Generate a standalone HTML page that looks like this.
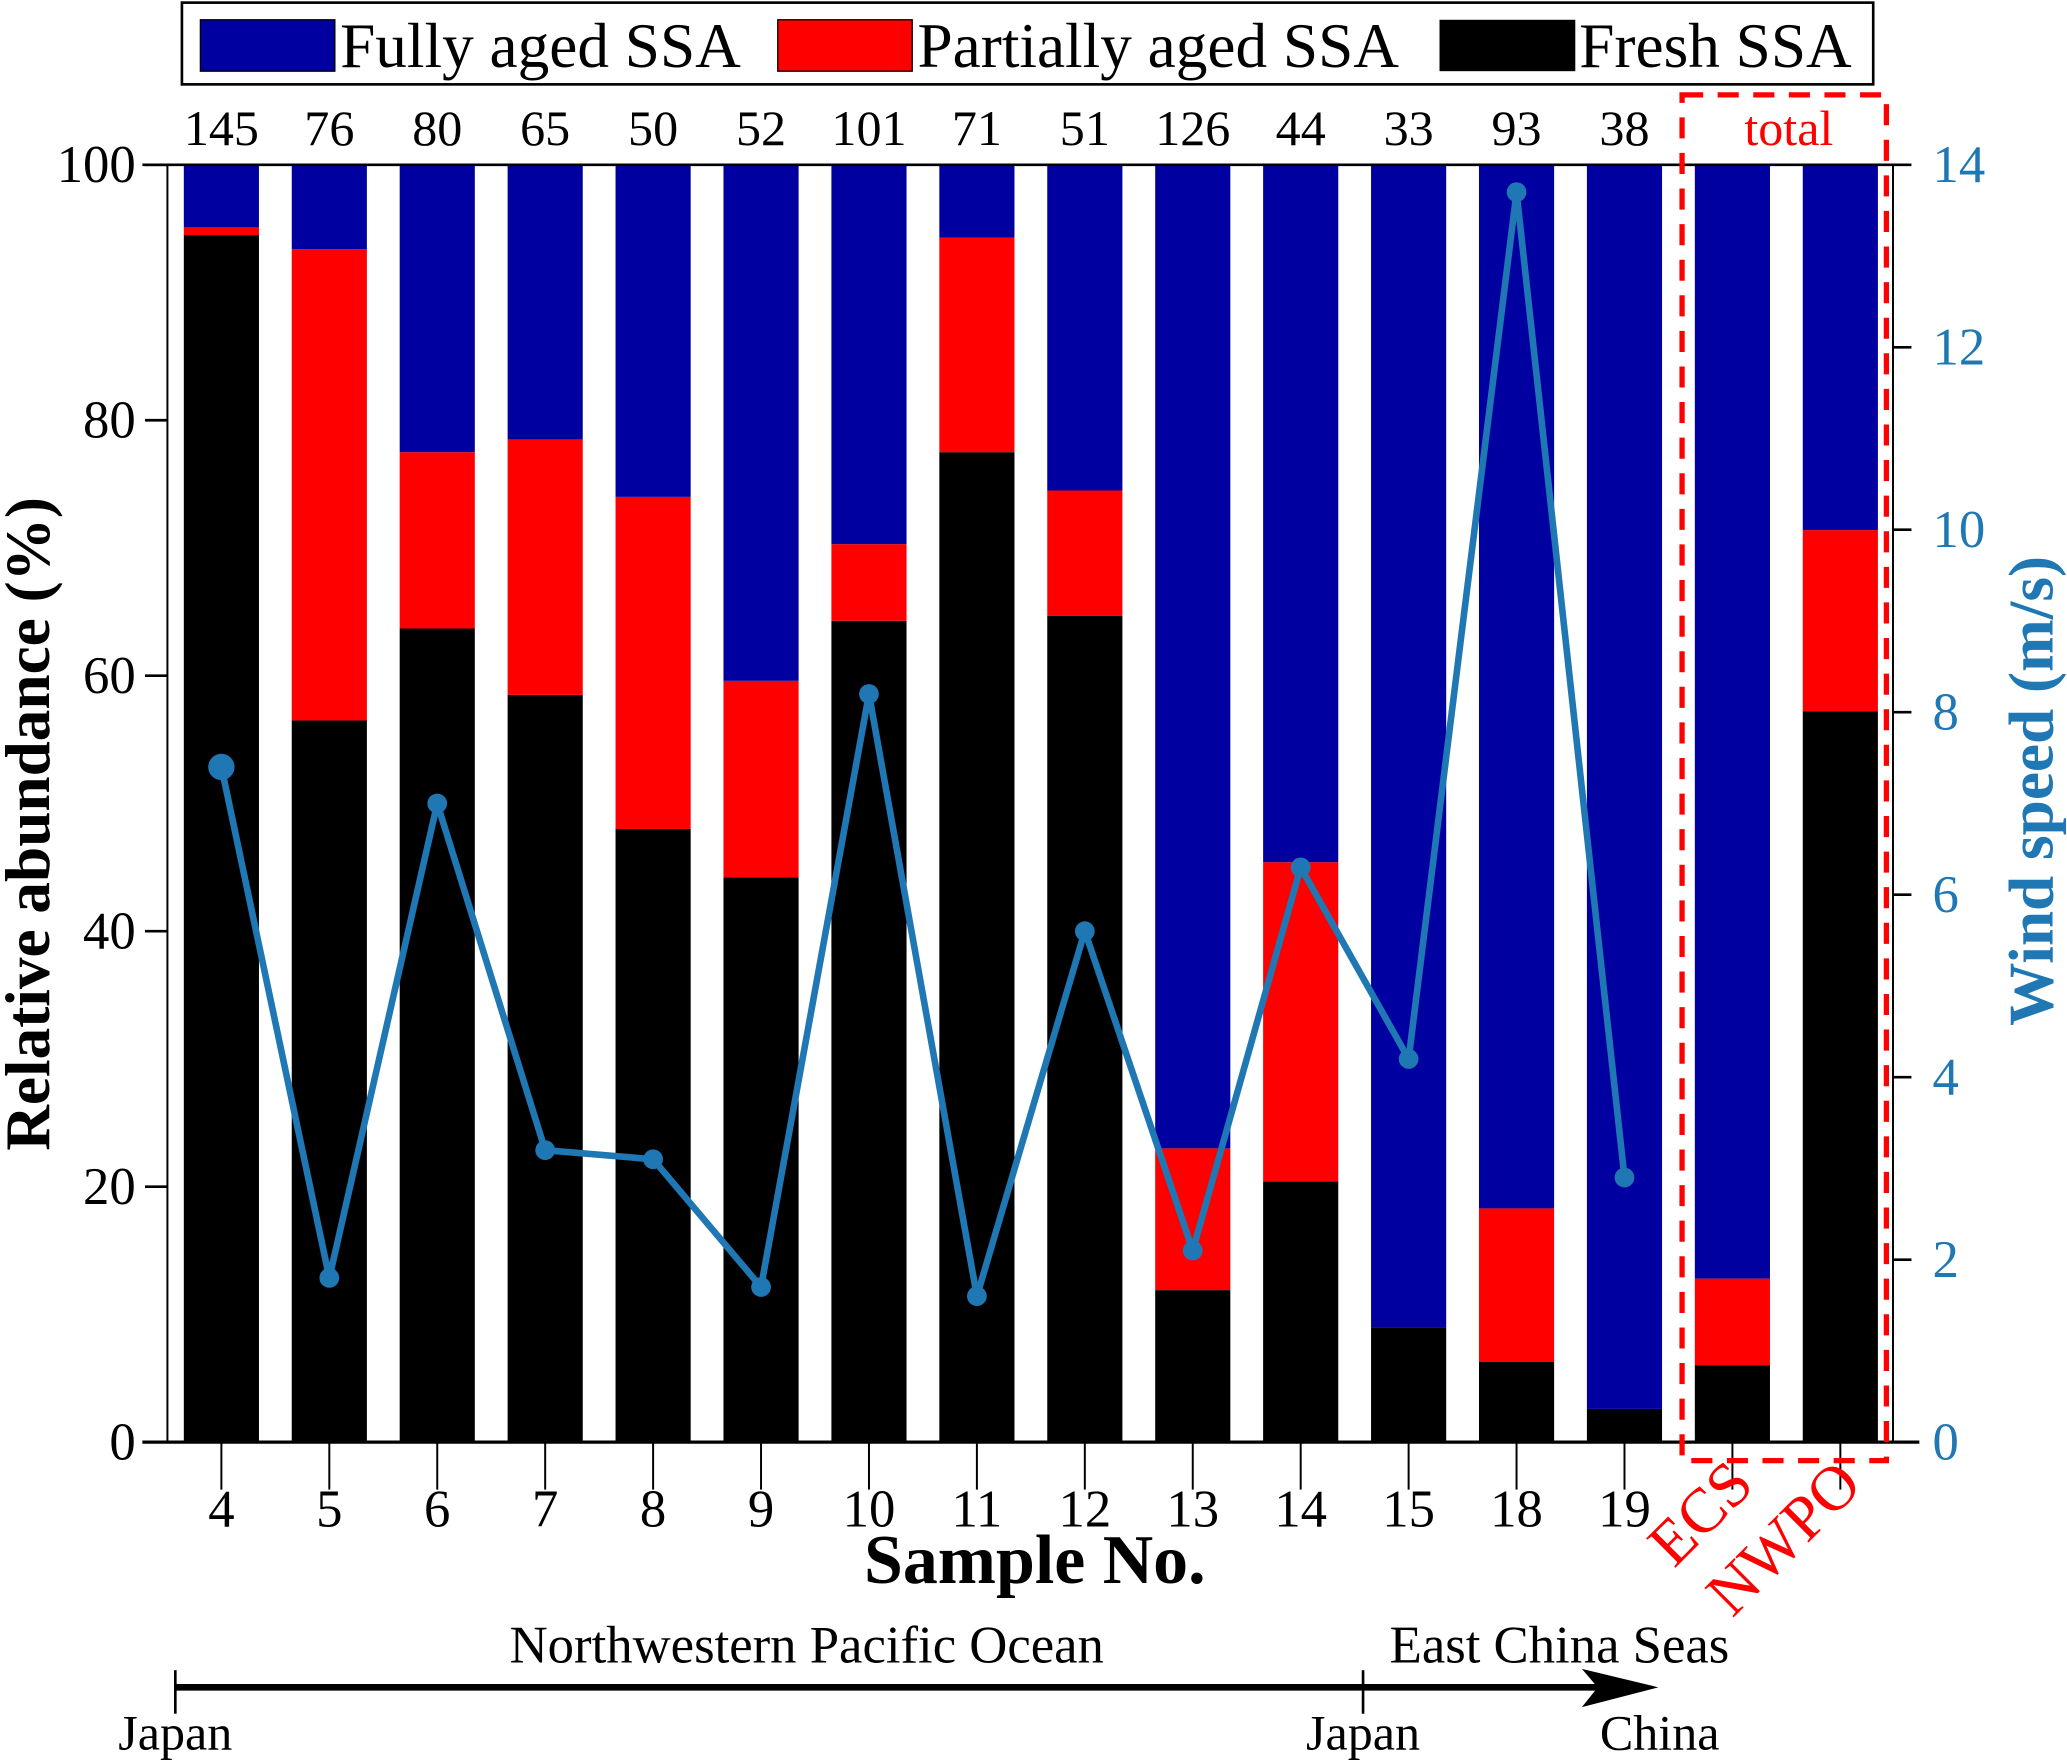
<!DOCTYPE html>
<html><head><meta charset="utf-8"><style>
html,body{margin:0;padding:0;background:#fff;}
svg{display:block;font-family:"Liberation Serif","DejaVu Serif",serif;}
</style></head><body>
<svg id="chart" width="2067" height="1763" viewBox="0 0 1568 1337.4" xmlns="http://www.w3.org/2000/svg">
<g>
<rect x="138" y="2" width="1283" height="62" fill="#fff" stroke="#000" stroke-width="2"/>
<rect x="152" y="15" width="102" height="39" fill="#0000a0" stroke="#000" stroke-width="1"/>
<text x="258" y="51" font-size="48">Fully aged SSA</text>
<rect x="590" y="15" width="102" height="39" fill="#ff0000" stroke="#000" stroke-width="1"/>
<text x="696" y="51" font-size="48">Partially aged SSA</text>
<rect x="1092" y="15" width="103" height="39" fill="#000"/>
<text x="1198" y="51" font-size="48">Fresh SSA</text>
</g>
<g id="bars"></g>
<g id="axes"></g>
<g id="line"></g>
<rect x="1276" y="72" width="155" height="1036" fill="none" stroke="#ff0000" stroke-width="4" stroke-dasharray="16 11"/>
<text x="1357" y="110" font-size="38" fill="#ff0000" text-anchor="middle">total</text>
<text x="785" y="1201" font-size="53" font-weight="bold" text-anchor="middle">Sample No.</text>
<text transform="translate(37,625) rotate(-90)" font-size="48" font-weight="bold" text-anchor="middle">Relative abundance (%)</text>
<text transform="translate(1557,600) rotate(-90)" font-size="48" font-weight="bold" fill="#1f77b4" text-anchor="middle">Wind speed (m/s)</text>
<g>
<text x="612" y="1261" font-size="40" text-anchor="middle">Northwestern Pacific Ocean</text>
<text x="1183" y="1261" font-size="40" text-anchor="middle">East China Seas</text>
<line x1="133" y1="1280" x2="1215" y2="1280" stroke="#000" stroke-width="5"/>
<polygon points="1200,1266 1258,1280 1200,1295 1212,1280" fill="#000"/>
<line x1="133" y1="1267" x2="133" y2="1300" stroke="#000" stroke-width="2"/>
<line x1="1034" y1="1267" x2="1034" y2="1300" stroke="#000" stroke-width="2"/>
<text x="133" y="1327" font-size="38" text-anchor="middle">Japan</text>
<text x="1034" y="1327" font-size="38" text-anchor="middle">Japan</text>
<text x="1259" y="1327" font-size="38" text-anchor="middle">China</text>
</g>
</svg>
<script>
const categories = ["4","5","6","7","8","9","10","11","12","13","14","15","18","19","ECS","NWPO"];
const counts = ["145","76","80","65","50","52","101","71","51","126","44","33","93","38"];
const freshValues = [94.5,56.5,63.7,58.5,48,44.2,64.3,77.5,64.7,11.9,20.4,9,6.3,2.6,6,57.2];
const partialValues = [0.6,36.9,13.8,20,26,15.4,6,16.8,9.8,11.1,25,0,12,0,6.8,14.2];
const fullyValues = [4.9,6.6,22.5,21.5,26,40.4,29.7,5.7,25.5,77,54.6,91,81.7,97.4,87.2,28.6];
const windValues = [7.4,1.8,7.0,3.2,3.1,1.7,8.2,1.6,5.6,2.1,6.3,4.2,13.7,2.9];
const leftTicks = [0,20,40,60,80,100];
const rightTicks = [0,2,4,6,8,10,12,14];

const NS = "http://www.w3.org/2000/svg";
const X0 = 127, X1 = 1437, Y0 = 1094, Y1 = 125;
const band = (X1 - X0) / categories.length;
const xc = i => X0 + band * (i + 0.5);
const yL = v => Y0 - (v / 100) * (Y0 - Y1);
const yR = v => Y0 - (v / 14) * (Y0 - Y1);
const BW = 57;
function mk(tag, attrs, parent, text) {
  const e = document.createElementNS(NS, tag);
  for (const k in attrs) e.setAttribute(k, attrs[k]);
  if (text !== undefined) e.textContent = text;
  parent.appendChild(e);
  return e;
}
const bars = document.getElementById('bars');
categories.forEach((c, i) => {
  const f = freshValues[i], p = partialValues[i], u = fullyValues[i];
  const x = xc(i) - BW / 2;
  let r = mk('rect', {x: x, y: yL(f), width: BW, height: yL(0) - yL(f), fill: '#000'}, bars);
  
  
  r = mk('rect', {x: x, y: yL(f + p), width: BW, height: yL(f) - yL(f + p), fill: '#ff0000'}, bars);
  
  
  r = mk('rect', {x: x, y: yL(f + p + u), width: BW, height: yL(f + p) - yL(f + p + u), fill: '#0000a0'}, bars);
  
  
});
const axes = document.getElementById('axes');
mk('line', {x1: 108, y1: Y1, x2: X1, y2: Y1, stroke: '#000', 'stroke-width': 2}, axes);
mk('line', {x1: 108, y1: Y0, x2: 1456, y2: Y0, stroke: '#000', 'stroke-width': 2.5}, axes);
mk('line', {x1: X0, y1: Y1, x2: X0, y2: Y0, stroke: '#000', 'stroke-width': 1.5}, axes);
mk('line', {x1: 1436, y1: Y1, x2: 1436, y2: Y0, stroke: '#000', 'stroke-width': 1.5}, axes);
leftTicks.forEach(v => {
  mk('line', {x1: 110, y1: yL(v), x2: X0, y2: yL(v), stroke: '#000', 'stroke-width': 2}, axes);
  const t = mk('text', {x: 103, y: yL(v) + 13, 'font-size': 40, 'text-anchor': 'end'}, axes, v);
  
  
});
rightTicks.forEach(v => {
  mk('line', {x1: 1436, y1: yR(v), x2: 1450, y2: yR(v), stroke: '#000', 'stroke-width': 2}, axes);
  const t = mk('text', {x: 1466, y: yR(v) + 13, 'font-size': 40, fill: '#1f77b4'}, axes, v);
  
  
});
categories.forEach((c, i) => {
  mk('line', {x1: xc(i), y1: Y0, x2: xc(i), y2: Y0 + 36, stroke: '#000', 'stroke-width': 1.5}, axes);
  let t;
  if (i < 14) {
    t = mk('text', {x: xc(i), y: 1158, 'font-size': 40, 'text-anchor': 'middle'}, axes, c);
  } else {
    t = mk('text', {transform: 'translate(' + (xc(i) + 18) + ',1128) rotate(-45)', 'font-size': 48, fill: '#ff0000', 'text-anchor': 'end'}, axes, c);
  }
  
  
});
counts.forEach((n, i) => {
  const t = mk('text', {x: xc(i), y: 110, 'font-size': 38, 'text-anchor': 'middle'}, axes, n);
  
  
});
const lineG = document.getElementById('line');
const pts = windValues.map((v, i) => xc(i) + ',' + yR(v)).join(' ');
const pl = mk('polyline', {points: pts, fill: 'none', stroke: '#1f77b4', 'stroke-width': 5, 'stroke-linejoin': 'round'}, lineG);


windValues.forEach((v, i) => {
  const c = mk('circle', {cx: xc(i), cy: yR(v), r: i === 0 ? 10 : 7.5, fill: '#1f77b4'}, lineG);
  
  
});
</script>
</body></html>
